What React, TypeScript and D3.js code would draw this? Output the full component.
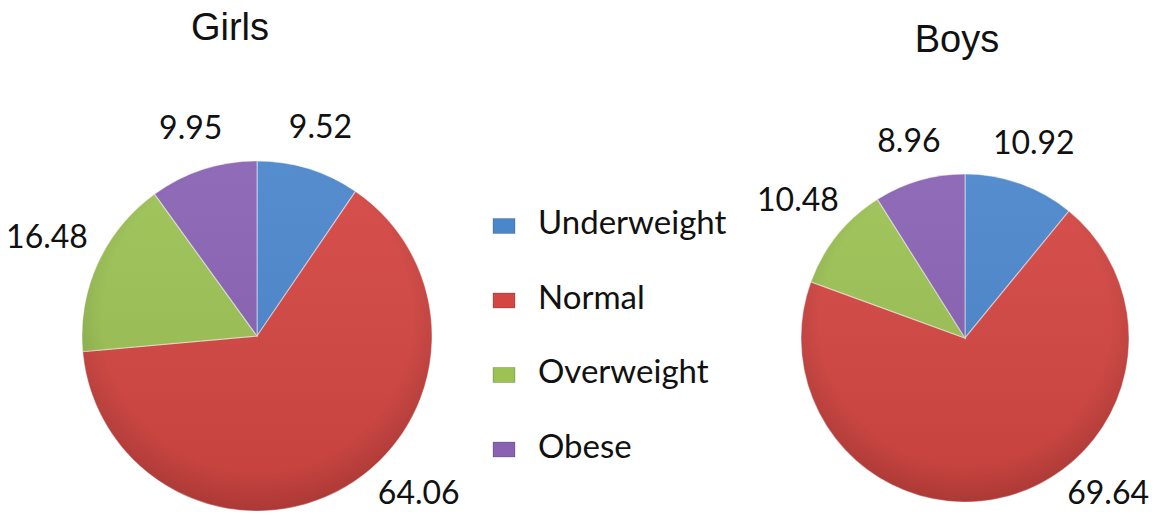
import React from "react";
import * as d3 from "d3";

const categories = ["Underweight", "Normal", "Overweight", "Obese"];
const girlsValues = [9.52, 64.06, 16.48, 9.95];
const boysValues = [10.92, 69.64, 10.48, 8.96];
const chartTitles = ["Girls", "Boys"];

const colors = ["#4A86CC", "#D44642", "#9CC254", "#8962B4"];
const W = 1165;
const H = 516;
const labelFont = "Lato, 'Open Sans', sans-serif";
const labelSize = 32;

type Datum = { v: number; c: string; i: number };

type PieProps = {
  values: number[];
  title: string;
  cx: number;
  cy: number;
  r: number;
  titleX: number;
  titleY: number;
  id: string;
};

function Pie({ values, title, cx, cy, r, titleX, titleY, id }: PieProps) {
  const data: Datum[] = values.map((v, i) => ({ v, c: categories[i], i }));
  const pie = d3
    .pie<Datum>()
    .value((d) => d.v)
    .sort(null)
    .startAngle(0)
    .endAngle(2 * Math.PI);
  const arcs = pie(data);
  const arc = d3.arc<d3.PieArcDatum<Datum>>().innerRadius(0).outerRadius(r);
  const maxY = 496 - cy;
  return (
    <g>
      <defs>
        <radialGradient id={`shade-${id}`} cx="0.5" cy="0.45" r="0.55">
          <stop offset="0.8" stopColor="#000" stopOpacity={0} />
          <stop offset="1" stopColor="#000" stopOpacity={0.12} />
        </radialGradient>
        <linearGradient id={`lin-${id}`} x1="0" y1="0" x2="0" y2="1">
          <stop offset="0" stopColor="#fff" stopOpacity={0.06} />
          <stop offset="1" stopColor="#000" stopOpacity={0.08} />
        </linearGradient>
      </defs>
      <text
        x={titleX}
        y={titleY}
        textAnchor="middle"
        fontFamily="'Liberation Sans', Arial, sans-serif"
        fontSize={38}
        fill="#111"
      >
        {title}
      </text>
      <g transform={`translate(${cx},${cy})`}>
        {arcs.map((a) => (
          <path
            key={a.data.c}
            d={arc(a) || ""}
            fill={colors[a.data.i]}
            stroke="rgba(255,255,255,0.45)"
            strokeWidth={1.2}
          />
        ))}
        <circle r={r} fill={`url(#lin-${id})`} />
        <circle r={r} fill={`url(#shade-${id})`} />
        {arcs.map((a) => {
          const mid = (a.startAngle + a.endAngle) / 2;
          const txt = a.data.v.toFixed(2);
          const w = txt.length * 0.52 * labelSize;
          const s = Math.sin(mid);
          let dist = 1.2 * r + 0.55 * Math.abs(s) * (w / 2);
          let x = dist * s;
          let y = -dist * Math.cos(mid);
          if (y > maxY) {
            const d2 = 1.3 * r;
            y = maxY;
            x = Math.sign(x || 1) * Math.sqrt(Math.max(0, d2 * d2 - y * y));
          }
          return (
            <text
              key={`l-${a.data.c}`}
              x={x}
              y={y}
              textAnchor="middle"
              dominantBaseline="middle"
              fontFamily={labelFont}
              fontSize={labelSize}
              fill="#111"
            >
              {txt}
            </text>
          );
        })}
      </g>
    </g>
  );
}

export default function App() {
  const legendX = 493;
  const legendY0 = 226;
  const legendStep = 74.5;
  return (
    <svg
      width={W}
      height={H}
      style={{ position: "absolute", left: 0, top: 0, background: "#fff" }}
    >
      <rect width={W} height={H} fill="#fff" />
      <Pie
        id="g"
        values={girlsValues}
        title={chartTitles[0]}
        cx={257}
        cy={336}
        r={175}
        titleX={230}
        titleY={40}
      />
      <Pie
        id="b"
        values={boysValues}
        title={chartTitles[1]}
        cx={965}
        cy={338}
        r={164}
        titleX={957}
        titleY={52}
      />
      <g>
        {categories.map((c, i) => (
          <g key={c} transform={`translate(${legendX},${legendY0 + i * legendStep})`}>
            <rect x={0} y={-7.5} width={22} height={15} fill={colors[i]} stroke="rgba(0,0,0,0.18)" />
            <text
              x={45}
              y={0}
              dominantBaseline="middle"
              fontFamily={labelFont}
              fontSize={33}
              fill="#111"
            >
              {c}
            </text>
          </g>
        ))}
      </g>
    </svg>
  );
}
